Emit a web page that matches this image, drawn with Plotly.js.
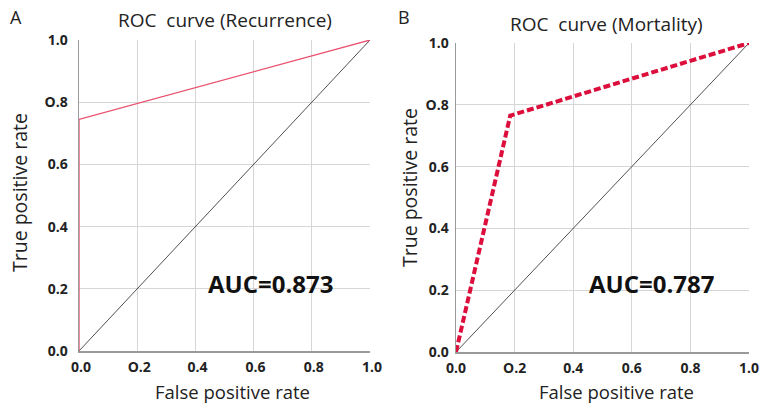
<!DOCTYPE html>
<html>
<head>
<meta charset="utf-8">
<script src="https://cdn.plot.ly/plotly-3.0.1.min.js"></script>
<style>html,body{margin:0;padding:0;background:#fff;}#chart{width:761px;height:404px;}</style>
</head>
<body>
<div id="chart"></div>
<script>
// Panel A: Recurrence
const fprRecurrence = [0, 0, 1];
const tprRecurrence = [0, 0.745, 1];
// Panel B: Mortality
const fprMortality = [0, 0.185, 1];
const tprMortality = [0, 0.765, 1];
// Reference diagonal
const diagX = [0, 1];
const diagY = [0, 1];
// Ticks
const tickVals = [0, 0.2, 0.4, 0.6, 0.8, 1.0];
const xTickText = ['0.0', 'O.2', '0.4', '0.6', '0.8', '1.0'];
const yTickText = ['0.0', '0.2', '0.4', '0.6', 'O.8', '1.0'];
const aucRecurrence = '0.873';
const aucMortality = '0.787';

const FONT = 'Open Sans, Noto Sans, sans-serif';

const traces = [
  {x: diagX, y: diagY, xaxis: 'x', yaxis: 'y', mode: 'lines', line: {color: '#505050', width: 1}, hoverinfo: 'skip'},
  {x: fprRecurrence, y: tprRecurrence, xaxis: 'x', yaxis: 'y', mode: 'lines', line: {color: '#e8506e', width: 1.3}},
  {x: diagX, y: diagY, xaxis: 'x2', yaxis: 'y2', mode: 'lines', line: {color: '#505050', width: 1}, hoverinfo: 'skip'},
  {x: fprMortality, y: tprMortality, xaxis: 'x2', yaxis: 'y2', mode: 'lines', line: {color: '#dc0f3c', width: 4, dash: '7px,3px'}}
];

function xax(domain, anchor, shift) {
  return {
    domain: domain, anchor: anchor, range: [0, 1], tickvals: tickVals, ticktext: xTickText,
    showgrid: true, gridcolor: '#d6d6d6', gridwidth: 1, zeroline: false,
    showline: true, linecolor: '#9a9a9a', linewidth: 1.5,
    ticks: 'outside', ticklen: 3, tickcolor: 'rgba(0,0,0,0)',
    ticklabelshift: shift, ticklabeloverflow: 'allow',
    tickfont: {family: FONT, size: 14, color: '#222', weight: 'bold'},
    fixedrange: true, automargin: false
  };
}
function yax(domain, anchor, len) {
  return {
    domain: domain, anchor: anchor, range: [0, 1], tickvals: tickVals, ticktext: yTickText,
    showgrid: true, gridcolor: '#d6d6d6', gridwidth: 1, zeroline: false,
    showline: true, linecolor: '#9a9a9a', linewidth: 1.5,
    ticks: 'outside', ticklen: len, tickcolor: 'rgba(0,0,0,0)',
    ticklabeloverflow: 'allow',
    tickfont: {family: FONT, size: 14, color: '#222', weight: 'bold'},
    fixedrange: true, automargin: false
  };
}

function txt(text, x, y, size, opts) {
  return Object.assign({text: text, xref: 'paper', yref: 'paper', x: x / 761, y: 1 - y / 404,
    xanchor: 'center', yanchor: 'middle', showarrow: false,
    font: {family: FONT, size: size, color: '#222'}}, opts || {});
}

const layout = {
  width: 761, height: 404,
  margin: {l: 0, r: 0, t: 0, b: 0},
  paper_bgcolor: '#ffffff', plot_bgcolor: '#ffffff',
  showlegend: false,
  xaxis: xax([79/761, 370/761], 'y', 2),
  yaxis: yax([(404-351)/404, (404-40)/404], 'x', 7),
  xaxis2: xax([456/761, 749/761], 'y2', 0),
  yaxis2: yax([(404-352)/404, (404-43)/404], 'x2', 3),
  annotations: [
    txt('A', 16, 17, 18),
    txt('B', 404, 17, 18),
    txt('ROC\u00a0 curve (Recurrence)', 225, 20, 19),
    txt('ROC\u00a0 curve (Mortality)', 606, 24, 19),
    txt('False positive rate', 233, 391, 18.5),
    txt('False positive rate', 616, 391, 18.5),
    txt('True positive rate', 19, 193, 19.5, {textangle: -90}),
    txt('True positive rate', 409, 187, 19.5, {textangle: -90}),
    txt('AUC=' + aucRecurrence, 270, 283, 24, {font: {family: FONT, size: 24, color: '#111', weight: 'bold'}}),
    txt('AUC=' + aucMortality, 651, 283, 24, {font: {family: FONT, size: 24, color: '#111', weight: 'bold'}})
  ]
};

Plotly.newPlot('chart', traces, layout, {staticPlot: true, displayModeBar: false});
</script>
</body>
</html>
